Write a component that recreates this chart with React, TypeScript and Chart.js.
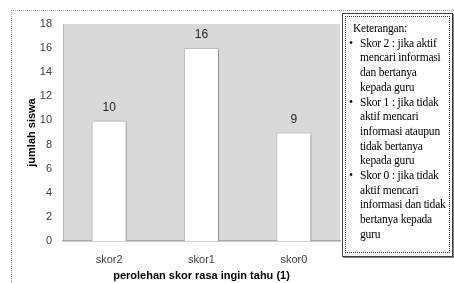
import React, { useEffect, useRef } from "react";
import { Chart, registerables } from "chart.js";

Chart.register(...registerables);

const categories = ["skor2", "skor1", "skor0"];
const values = [10, 16, 9];
const yMax = 18;
const yStep = 2;
const xTitle = "perolehan skor rasa ingin tahu (1)";
const yTitle = "jumlah siswa";
const legendTitle = "Keterangan:";
const legendItems = [
  ["Skor 2 : jika aktif", "mencari informasi", "dan bertanya", "kepada guru"],
  ["Skor 1 : jika tidak", "aktif mencari", "informasi ataupun", "tidak bertanya", "kepada guru"],
  ["Skor 0 : jika tidak", "aktif mencari", "informasi dan tidak", "bertanya kepada", "guru"],
];

const bgPlugin = {
  id: "plotBg",
  beforeDraw(chart: any) {
    const { ctx, chartArea } = chart;
    ctx.save();
    ctx.fillStyle = "#d9d9d9";
    ctx.fillRect(chartArea.left, chartArea.top, chartArea.right - chartArea.left, chartArea.bottom - chartArea.top);
    ctx.strokeStyle = "#b8b8b8";
    ctx.lineWidth = 1;
    ctx.beginPath();
    ctx.moveTo(chartArea.left + 0.5, chartArea.top);
    ctx.lineTo(chartArea.left + 0.5, chartArea.bottom);
    ctx.stroke();
    ctx.restore();
  },
};

const shadowPlugin = {
  id: "barShadow",
  beforeDatasetsDraw(chart: any) {
    const { ctx } = chart;
    ctx.save();
    ctx.shadowColor = "rgba(0,0,0,0.35)";
    ctx.shadowBlur = 3;
    ctx.shadowOffsetX = 1.5;
    ctx.shadowOffsetY = 1;
  },
  afterDatasetsDraw(chart: any) {
    chart.ctx.restore();
  },
};

const labelPlugin = {
  id: "valueLabels",
  afterDatasetsDraw(chart: any) {
    const { ctx } = chart;
    const meta = chart.getDatasetMeta(0);
    ctx.save();
    ctx.shadowColor = "transparent";
    ctx.font = "12px 'Liberation Sans', Arial, sans-serif";
    ctx.fillStyle = "#262626";
    ctx.textAlign = "center";
    ctx.textBaseline = "middle";
    meta.data.forEach((bar: any, i: number) => {
      ctx.fillText(String(values[i]), bar.x, bar.y - 13);
    });
    ctx.restore();
  },
};

export default function App() {
  const ref = useRef<HTMLCanvasElement>(null);
  useEffect(() => {
    if (!ref.current) return;
    const chart = new Chart(ref.current, {
      type: "bar",
      data: {
        labels: categories,
        datasets: [
          {
            data: values,
            backgroundColor: "#ffffff",
            borderColor: "#c4c4c4",
            borderWidth: 1,
            barPercentage: 0.38,
            categoryPercentage: 1,
          },
        ],
      },
      options: {
        animation: false,
        responsive: false,
        maintainAspectRatio: false,
        layout: { padding: { left: 0, top: 24, right: 114, bottom: 0 } },
        plugins: { legend: { display: false }, tooltip: { enabled: false } },
        scales: {
          x: {
            grid: { display: false, drawTicks: false },
            border: { display: true, color: "#a6a6a6", width: 1.5 },
            ticks: {
              color: "#404040",
              font: { family: "'Liberation Sans', Arial, sans-serif", size: 11 },
              padding: 12,
            },
            title: {
              display: true,
              text: xTitle,
              color: "#000000",
              font: { family: "'Liberation Sans', Arial, sans-serif", size: 11, weight: "bold" },
              padding: { top: 4, bottom: 0 },
            },
            afterFit(scale: any) {
              scale.height = 42;
            },
          },
          y: {
            min: 0,
            max: yMax,
            grid: { display: false, drawTicks: false },
            border: { display: false },
            ticks: {
              stepSize: yStep,
              color: "#404040",
              font: { family: "'Liberation Sans', Arial, sans-serif", size: 11 },
              padding: 11,
            },
            title: {
              display: true,
              text: yTitle,
              color: "#000000",
              font: { family: "'Liberation Sans', Arial, sans-serif", size: 11, weight: "bold" },
              padding: { top: 25, bottom: 0 },
            },
            afterFit(scale: any) {
              scale.width = 63;
            },
          },
        },
      },
      plugins: [bgPlugin, shadowPlugin, labelPlugin],
    });
    return () => chart.destroy();
  }, []);

  const serif = "'Liberation Serif', 'Times New Roman', serif";
  const lineH = 14.7;
  let row = 1;
  const legendLines: React.ReactNode[] = [];
  legendItems.forEach((item, i) => {
    item.forEach((line, j) => {
      legendLines.push(
        <div key={`${i}-${j}`} style={{ position: "absolute", left: 17, top: 7 + row * lineH, whiteSpace: "nowrap", lineHeight: `${lineH}px` }}>
          {j === 0 && (
            <span style={{ position: "absolute", left: -11, top: 0 }}>•</span>
          )}
          {line}
        </div>
      );
      row++;
    });
  });

  return (
    <div style={{ position: "absolute", left: 0, top: 0, width: 454, height: 283, overflow: "hidden", background: "#ffffff" }}>
      <div style={{ position: "absolute", left: 11, top: 10, width: 460, height: 300, borderLeft: "1px dotted #9a9a9a", borderTop: "1px dotted #9a9a9a" }} />
      <canvas ref={ref} width={454} height={283} style={{ position: "absolute", left: 0, top: 0, width: 454, height: 283 }} />
      <div
        style={{
          position: "absolute",
          left: 342,
          top: 13,
          width: 109,
          height: 242,
          border: "1px solid #404040",
          boxShadow: "1px 1px 0 #808080",
          background: "#ffffff",
          fontFamily: serif,
          fontSize: 11.5,
          letterSpacing: -0.2,
          color: "#000000",
        }}
      >
        <div style={{ position: "absolute", left: 2, top: 2, right: 2, bottom: 3, border: "1px dotted #333" }} />
        <div style={{ position: "absolute", left: 10, top: 7, lineHeight: `${lineH}px`, whiteSpace: "nowrap" }}>{legendTitle}</div>
        {legendLines}
      </div>
    </div>
  );
}
